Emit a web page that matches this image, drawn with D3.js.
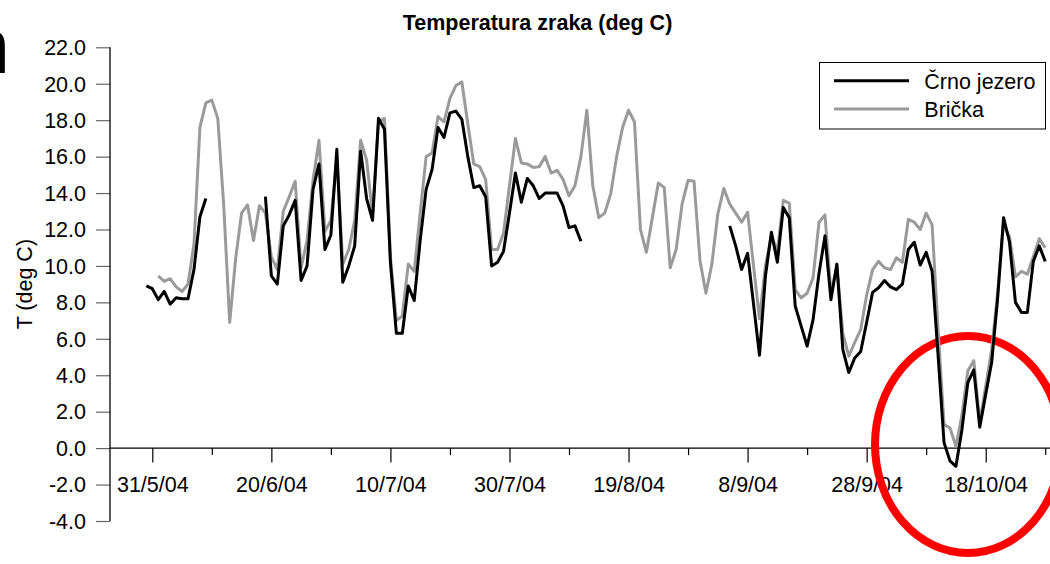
<!DOCTYPE html>
<html>
<head>
<meta charset="utf-8">
<script src="https://cdn.jsdelivr.net/npm/d3@7"></script>
<style>
  html, body { margin: 0; padding: 0; background: #fff; }
  svg { display: block; }
  text { font-family: Arial, "Liberation Sans", sans-serif; fill: #000; }
</style>
</head>
<body>
<svg id="chart" width="1050" height="564"></svg>
<script>
// ---- data (daily values) ----
const chartTitle = "Temperatura zraka (deg C)";
const yAxisTitle = "T (deg C)";
const seriesNames = ["Črno jezero", "Brička"];

const crnoStart = "30/5/04";
const crnoValues = [
  8.9, 8.75, 8.15, 8.6, 7.9, 8.25, 8.2, 8.2, 9.8, 12.7, 13.7,
  null, null, null, null, null, null, null, null, null,
  13.8, 9.45, 9.0, 12.2, 12.8, 13.6, 9.2, 10.0, 14.2, 15.6,
  10.9, 11.7, 16.4, 9.1, 10.0, 11.1, 16.3, 13.7, 12.5, 18.1,
  17.5, 10.2, 6.3, 6.3, 8.9, 8.1, 11.4, 14.2, 15.3, 17.6,
  17.05, 18.4, 18.5, 18.05, 16.0, 14.3, 14.4, 13.8, 10.0, 10.2,
  10.8, 12.9, 15.1, 13.5, 14.8, 14.4, 13.7, 14.0, 14.0, 14.0,
  13.3, 12.1, 12.2, 11.35,
  null, null, null, null, null, null, null, null, null, null, null, null,
  null, null, null, null, null, null, null, null, null, null, null, null,
  12.2, 11.1, 9.8, 10.7, 7.9, 5.1, 9.45, 11.85, 10.2, 13.2,
  12.65, 7.8, 6.7, 5.6, 7.05, 9.6, 11.65, 8.15, 10.1, 5.4,
  4.15, 4.95, 5.3, 6.9, 8.55, 8.8, 9.2, 8.85, 8.7, 9.0,
  10.9, 11.3, 10.05, 10.75, 9.7, 5.1, 0.3, -0.7, -1.0, 1.0,
  3.6, 4.3, 1.15, 2.95, 4.7, 8.2, 12.65, 11.3, 8.0, 7.45,
  7.45, 10.25, 11.1, 10.25
];

const brickaStart = "1/6/04";
const brickaValues = [
  9.45, 9.15, 9.3, 8.85, 8.6, 9.0, 11.2, 17.6, 18.95, 19.1,
  18.1, 13.3, 6.9, 10.4, 12.9, 13.35, 11.4, 13.3, 12.9, 10.5,
  9.8, 13.0, 13.8, 14.65, 9.9, 11.4, 14.7, 16.9, 11.9, 12.5,
  15.9, 10.1, 10.9, 12.5, 16.9, 15.8, 12.8, 17.9, 18.1, 10.5,
  7.0, 7.25, 10.1, 9.7, 12.9, 16.0, 16.2, 18.2, 17.9, 19.2,
  19.9, 20.1, 17.8, 15.6, 15.45, 14.75, 10.9, 10.9, 11.8, 14.4,
  17.0, 15.65, 15.6, 15.4, 15.45, 16.0, 15.1, 15.25, 14.75, 13.85,
  14.4, 16.0, 18.55, 14.4, 12.65, 12.9, 13.95, 16.0, 17.6, 18.55,
  17.9, 12.0, 10.75, 12.65, 14.55, 14.3, 9.9, 10.9, 13.4, 14.7,
  14.65, 10.3, 8.5, 10.1, 12.85, 14.25, 13.4, 12.9, 12.4, 12.95,
  10.0, 7.1, 10.0, 11.65, 10.8, 13.6, 13.45, 8.7, 8.25, 8.5,
  9.35, 12.4, 12.8, 8.5, 10.0, 6.3, 5.05, 5.8, 6.5, 8.4,
  9.8, 10.25, 9.9, 9.8, 10.45, 10.2, 12.55, 12.4, 12.0, 12.9,
  12.25, 6.5, 1.3, 1.1, 0.1, 1.8, 4.25, 4.8, 1.4, 3.4,
  5.4, 8.5, 12.3, 11.6, 9.4, 9.7, 9.55, 10.5, 11.5, 11.0
];

const xTickLabels = ["31/5/04", "20/6/04", "10/7/04", "30/7/04", "19/8/04", "8/9/04", "28/9/04", "18/10/04"];
const xMinorTickLabels = ["10/6/04", "30/6/04", "20/7/04", "9/8/04", "29/8/04", "18/9/04", "8/10/04", "28/10/04"];
const yTicks = [-4, -2, 0, 2, 4, 6, 8, 10, 12, 14, 16, 18, 20, 22];

// ---- drawing ----
const parse = d3.utcParse("%d/%m/%y");
const svg = d3.select("#chart");
const FS = 21.5;

const x = d3.scaleUtc()
  .domain([parse("31/5/04"), parse("18/10/04")])
  .range([152.3, 985.7]);
const y = d3.scaleLinear().domain([-4, 22]).range([521, 47.3]);

function toPoints(startStr, values) {
  const s = parse(startStr);
  return values.map((v, i) => ({ date: d3.utcDay.offset(s, i), v }));
}
const crno = toPoints(crnoStart, crnoValues);
const bricka = toPoints(brickaStart, brickaValues);

// cropped big letter at top-left
svg.append("text").attr("x", -33).attr("y", 73)
  .style("font-size", "77px").text("n");

// title
svg.append("text").attr("x", 537.5).attr("y", 30)
  .attr("text-anchor", "middle")
  .style("font-size", FS + "px").style("font-weight", "bold")
  .text(chartTitle);

// y axis title
svg.append("text")
  .attr("transform", "translate(32," + ((y(22) + y(-4)) / 2) + ") rotate(-90)")
  .attr("text-anchor", "middle")
  .style("font-size", FS + "px")
  .text(yAxisTitle);

// y axis
const yAxisG = svg.append("g").attr("transform", "translate(110,0)")
  .call(d3.axisLeft(y).tickValues(yTicks).tickSize(14).tickPadding(10)
    .tickFormat(d => d.toFixed(1)));
yAxisG.select(".domain").remove();
yAxisG.selectAll(".tick line").attr("stroke", "#666").attr("stroke-width", 1.2);
yAxisG.selectAll(".tick text").style("font-size", FS + "px")
  .style("font-family", "Arial, 'Liberation Sans', sans-serif").attr("fill", "#000").attr("dy", "0.34em");
svg.append("line").attr("x1", 110).attr("x2", 110).attr("y1", y(22)).attr("y2", y(-4))
  .attr("stroke", "#000").attr("stroke-width", 1.3);

// x axis (major labelled + minor ticks)
const majorDates = xTickLabels.map(parse);
const minorDates = xMinorTickLabels.map(parse);
const xMajor = svg.append("g").attr("transform", "translate(0," + y(0) + ")")
  .call(d3.axisBottom(x).tickValues(majorDates).tickSize(14.5).tickPadding(14)
    .tickFormat((d, i) => xTickLabels[i]));
xMajor.select(".domain").remove();
xMajor.selectAll(".tick line").attr("stroke", "#000").attr("stroke-width", 1.2);
xMajor.selectAll(".tick text").style("font-size", FS + "px")
  .style("font-family", "Arial, 'Liberation Sans', sans-serif").attr("fill", "#000");
const xMinor = svg.append("g").attr("transform", "translate(0," + y(0) + ")")
  .call(d3.axisBottom(x).tickValues(minorDates).tickSize(7).tickFormat(""));
xMinor.select(".domain").remove();
xMinor.selectAll(".tick line").attr("stroke", "#000").attr("stroke-width", 1.2);
svg.append("line").attr("x1", 110).attr("x2", 1060).attr("y1", y(0)).attr("y2", y(0))
  .attr("stroke", "#000").attr("stroke-width", 1.3);

// highlight ellipse
svg.append("ellipse").attr("cx", 968).attr("cy", 444.5).attr("rx", 93).attr("ry", 108.5)
  .attr("fill", "none").attr("stroke", "#ff0000").attr("stroke-width", 8);

// lines
const line = d3.line().defined(d => d.v != null)
  .x(d => x(d.date)).y(d => y(d.v));
svg.append("path").datum(bricka).attr("d", line)
  .attr("fill", "none").attr("stroke", "#9a9a9a").attr("stroke-width", 3)
  .attr("stroke-linejoin", "round");
svg.append("path").datum(crno).attr("d", line)
  .attr("fill", "none").attr("stroke", "#000").attr("stroke-width", 3)
  .attr("stroke-linejoin", "round");

// legend
const lg = svg.append("g");
lg.append("rect").attr("x", 819.5).attr("y", 62.5).attr("width", 226).attr("height", 66.5)
  .attr("fill", "#fff").attr("stroke", "#000").attr("stroke-width", 1);
const legendColors = ["#000", "#9a9a9a"];
seriesNames.forEach((name, i) => {
  const ly = 80.7 + i * 28.3;
  lg.append("line").attr("x1", 834).attr("x2", 909).attr("y1", ly).attr("y2", ly)
    .attr("stroke", legendColors[i]).attr("stroke-width", 3);
  lg.append("text").attr("x", 924.3).attr("y", ly + 7.8)
    .style("font-size", FS + "px").text(name);
});
</script>
</body>
</html>
